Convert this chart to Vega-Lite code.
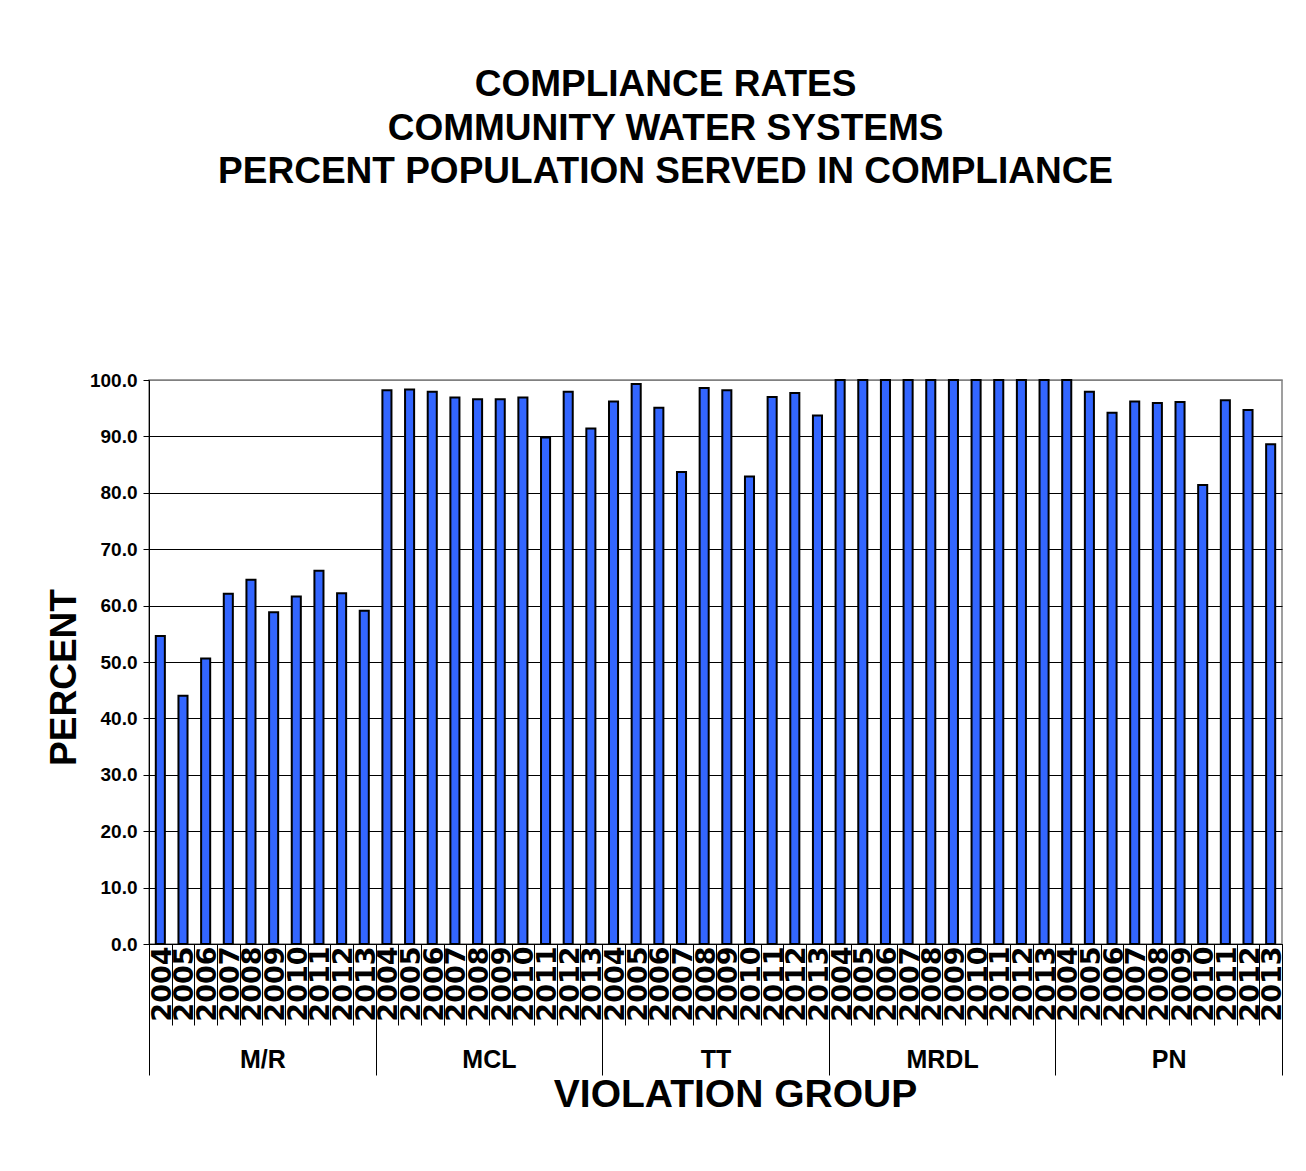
{
  "$schema": "https://vega.github.io/schema/vega-lite/v6.json",
  "autosize": "none",
  "padding": {"left": 149, "top": 380, "right": 24, "bottom": 227},
  "width": 1133,
  "height": 564,
  "background": "white",
  "title": {
    "text": ["COMPLIANCE RATES", "COMMUNITY WATER SYSTEMS", "PERCENT POPULATION SERVED IN COMPLIANCE"],
    "font": "Liberation Sans",
    "fontSize": 37,
    "fontWeight": "bold",
    "color": "black",
    "lineHeight": 43.5,
    "anchor": "middle",
    "frame": "bounds",
    "offset": 180
  },
  "data": {
    "values": [
      {"k": "M/R|2004", "group": "M/R", "value": 54.6},
      {"k": "M/R|2005", "group": "M/R", "value": 44.0},
      {"k": "M/R|2006", "group": "M/R", "value": 50.6},
      {"k": "M/R|2007", "group": "M/R", "value": 62.1},
      {"k": "M/R|2008", "group": "M/R", "value": 64.6},
      {"k": "M/R|2009", "group": "M/R", "value": 58.8},
      {"k": "M/R|2010", "group": "M/R", "value": 61.6},
      {"k": "M/R|2011", "group": "M/R", "value": 66.2},
      {"k": "M/R|2012", "group": "M/R", "value": 62.2},
      {"k": "M/R|2013", "group": "M/R", "value": 59.1},
      {"k": "MCL|2004", "group": "MCL", "value": 98.2},
      {"k": "MCL|2005", "group": "MCL", "value": 98.3},
      {"k": "MCL|2006", "group": "MCL", "value": 97.9},
      {"k": "MCL|2007", "group": "MCL", "value": 96.9},
      {"k": "MCL|2008", "group": "MCL", "value": 96.6},
      {"k": "MCL|2009", "group": "MCL", "value": 96.6},
      {"k": "MCL|2010", "group": "MCL", "value": 96.9},
      {"k": "MCL|2011", "group": "MCL", "value": 89.8},
      {"k": "MCL|2012", "group": "MCL", "value": 97.9},
      {"k": "MCL|2013", "group": "MCL", "value": 91.4},
      {"k": "TT|2004", "group": "TT", "value": 96.2},
      {"k": "TT|2005", "group": "TT", "value": 99.3},
      {"k": "TT|2006", "group": "TT", "value": 95.1},
      {"k": "TT|2007", "group": "TT", "value": 83.7},
      {"k": "TT|2008", "group": "TT", "value": 98.6},
      {"k": "TT|2009", "group": "TT", "value": 98.2},
      {"k": "TT|2010", "group": "TT", "value": 82.9},
      {"k": "TT|2011", "group": "TT", "value": 97.0},
      {"k": "TT|2012", "group": "TT", "value": 97.7},
      {"k": "TT|2013", "group": "TT", "value": 93.7},
      {"k": "MRDL|2004", "group": "MRDL", "value": 100.0},
      {"k": "MRDL|2005", "group": "MRDL", "value": 100.0},
      {"k": "MRDL|2006", "group": "MRDL", "value": 100.0},
      {"k": "MRDL|2007", "group": "MRDL", "value": 100.0},
      {"k": "MRDL|2008", "group": "MRDL", "value": 100.0},
      {"k": "MRDL|2009", "group": "MRDL", "value": 100.0},
      {"k": "MRDL|2010", "group": "MRDL", "value": 100.0},
      {"k": "MRDL|2011", "group": "MRDL", "value": 100.0},
      {"k": "MRDL|2012", "group": "MRDL", "value": 100.0},
      {"k": "MRDL|2013", "group": "MRDL", "value": 100.0},
      {"k": "PN|2004", "group": "PN", "value": 100.0},
      {"k": "PN|2005", "group": "PN", "value": 97.9},
      {"k": "PN|2006", "group": "PN", "value": 94.2},
      {"k": "PN|2007", "group": "PN", "value": 96.2},
      {"k": "PN|2008", "group": "PN", "value": 95.9},
      {"k": "PN|2009", "group": "PN", "value": 96.1},
      {"k": "PN|2010", "group": "PN", "value": 81.4},
      {"k": "PN|2011", "group": "PN", "value": 96.4},
      {"k": "PN|2012", "group": "PN", "value": 94.7},
      {"k": "PN|2013", "group": "PN", "value": 88.6}
    ]
  },
  "layer": [
    {
      "mark": {"type": "bar", "fill": "#3366FF", "stroke": "black", "strokeWidth": 2, "width": {"band": 0.4}},
      "encoding": {
        "x": {
          "field": "k", "type": "nominal", "sort": null,
          "scale": {"paddingInner": 0, "paddingOuter": 0},
          "axis": {
            "orient": "bottom",
            "title": null,
            "labelExpr": "slice(datum.label, -4)",
            "labelAngle": -90,
            "labelFont": "DejaVu Sans",
            "labelFontWeight": "bold",
            "labelFontSize": 27,
            "labelColor": "black",
            "labelPadding": -79,
            "labelOffset": 2,
            "labelOverlap": false,
            "labelBound": false,
            "tickBand": "extent",
            "tickSize": 81,
            "tickColor": "black",
            "tickWidth": 1,
            "domainColor": "black",
            "domainWidth": 1,
            "grid": false
          }
        },
        "y": {
          "field": "value", "type": "quantitative",
          "scale": {"domain": [0, 100], "nice": false},
          "axis": {
            "title": "PERCENT",
            "titleFont": "Liberation Sans",
            "titleFontSize": 37,
            "titleFontWeight": "bold",
            "titleColor": "black",
            "titlePadding": 6,
            "titleY": 297,
            "values": [0, 10, 20, 30, 40, 50, 60, 70, 80, 90, 100],
            "format": ".1f",
            "labelFont": "Liberation Sans",
            "labelFontWeight": "bold",
            "labelFontSize": 19,
            "labelColor": "black",
            "labelPadding": 6,
            "tickSize": 6,
            "tickColor": "black",
            "domainColor": "black",
            "domainWidth": 1,
            "grid": true,
            "gridColor": {"condition": {"test": "datum.value >= 100", "value": "#808080"}, "value": "black"},
            "gridWidth": 1,
            "gridOpacity": 1
          }
        }
      }
    },
    {
      "mark": {"type": "point", "opacity": 0},
      "encoding": {
        "x": {
          "field": "group", "type": "nominal", "sort": null,
          "scale": {"paddingInner": 0, "paddingOuter": 0},
          "axis": {
            "orient": "bottom",
            "title": "VIOLATION GROUP",
            "titleFont": "Liberation Sans",
            "titleFontSize": 39,
            "titleFontWeight": "bold",
            "titleColor": "black",
            "titlePadding": 0,
            "titleX": 586,
            "titleAlign": "center",
            "labelAngle": 0,
            "labelFont": "Liberation Sans",
            "labelFontWeight": "bold",
            "labelFontSize": 25,
            "labelColor": "black",
            "labelPadding": -28,
            "tickBand": "extent",
            "tickSize": 131,
            "tickColor": "black",
            "tickWidth": 1,
            "domain": false,
            "grid": false
          }
        },
        "y": {"field": "value", "type": "quantitative"}
      }
    }
  ],
  "resolve": {"scale": {"x": "independent"}, "axis": {"x": "independent"}},
  "config": {
    "view": {"stroke": "#808080", "strokeWidth": 1.5},
    "font": "Liberation Sans"
  }
}
